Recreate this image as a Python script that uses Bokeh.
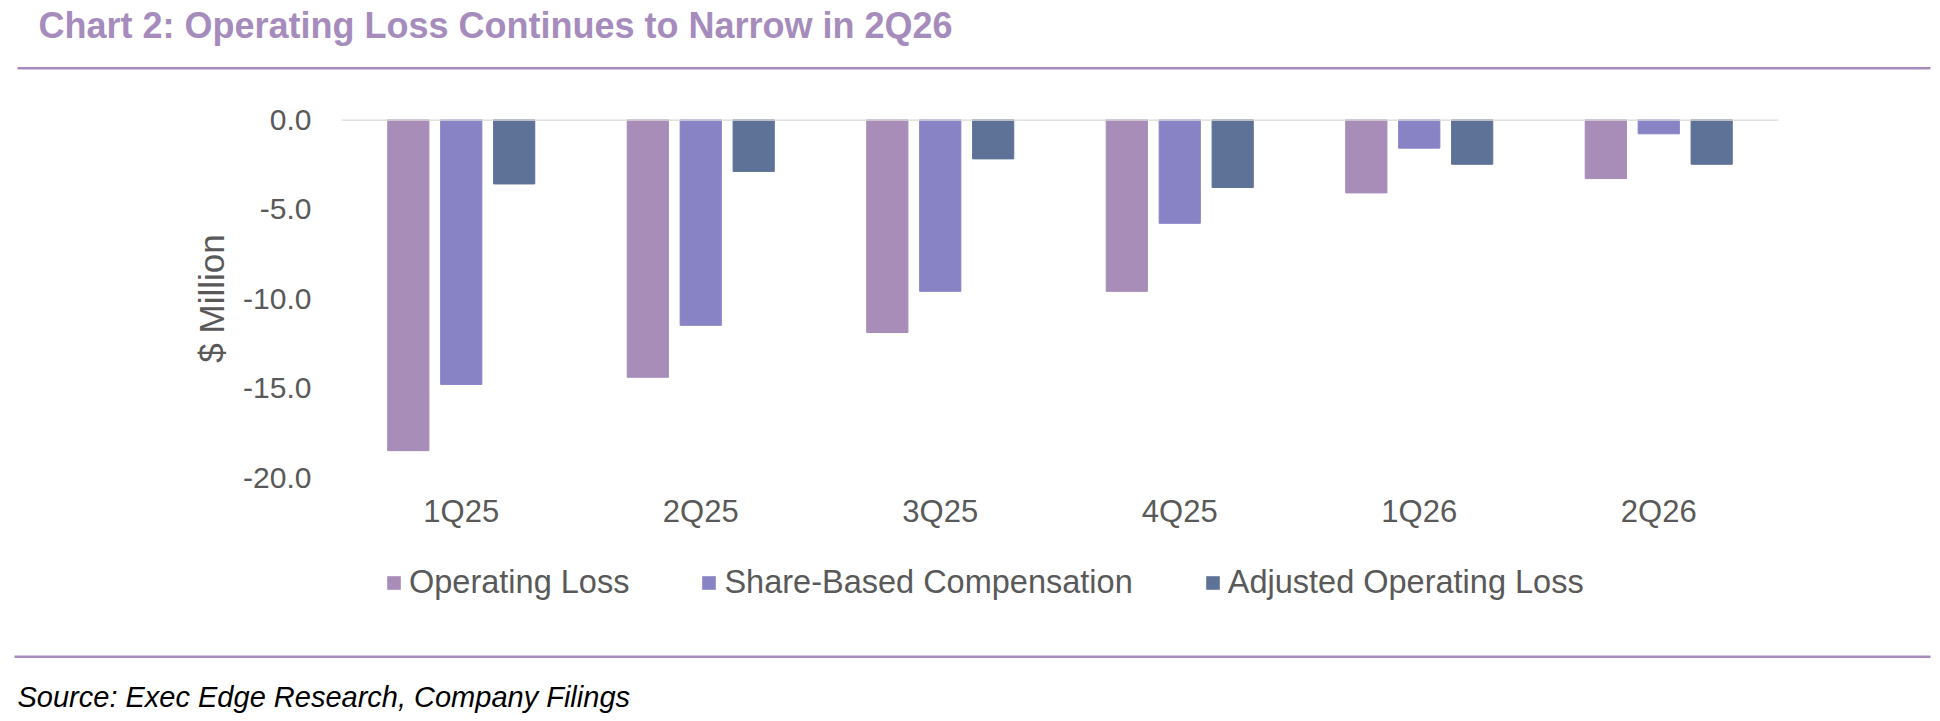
from bokeh.plotting import figure
from bokeh.models import (FactorRange, Range1d, FixedTicker, NumeralTickFormatter,
                          Span, Label, Legend, LegendItem)
from bokeh.layouts import column
from bokeh.transform import dodge
from bokeh.embed import file_html
from bokeh.resources import INLINE

# ---------------- data ----------------
categories = ["1Q25", "2Q25", "3Q25", "4Q25", "1Q26", "2Q26"]
operating_loss = [-18.5, -14.4, -11.9, -9.6, -4.1, -3.3]
share_based_comp = [-14.8, -11.5, -9.6, -5.8, -1.6, -0.8]
adjusted_operating_loss = [-3.6, -2.9, -2.2, -3.8, -2.5, -2.5]
series_names = ["Operating Loss", "Share-Based Compensation", "Adjusted Operating Loss"]
y_ticks = [0, -5, -10, -15, -20]

title_text = "Chart 2: Operating Loss Continues to Narrow in 2Q26"
source_text = "Source: Exec Edge Research, Company Filings"

# ---------------- style ----------------
COLORS = ["#A78DB8", "#8783C4", "#5E7298"]
PURPLE = "#A68CBC"
TXT = "#595959"
FONT = "Liberation Sans"
W = 1940
TOP_H, MAIN_H, BOT_H = 85, 460, 176


def blank_fig(h):
    f = figure(width=W, height=h, x_range=Range1d(0, W), y_range=Range1d(h, 0),
               output_backend="svg", toolbar_location=None, x_axis_type=None,
               y_axis_type=None, title=None, min_border=0, frame_align=False)
    f.min_border_left = f.min_border_right = f.min_border_top = f.min_border_bottom = 0
    f.outline_line_color = None
    f.xgrid.visible = False
    f.ygrid.visible = False
    return f


# ---------------- header ----------------
top = blank_fig(TOP_H)
top.add_layout(Label(x=38, y=24.5, text=title_text, text_font=FONT, text_font_size="36px",
                     text_font_style="bold", text_color=PURPLE, text_baseline="middle"))
top.quad(left=[17], right=[1930], top=[66.5], bottom=[69], fill_color=PURPLE,
         line_color=None)

# ---------------- main chart ----------------
p = figure(width=W, height=MAIN_H, x_range=FactorRange(*categories, range_padding=0),
           y_range=Range1d(-20, 0), output_backend="svg", toolbar_location=None,
           title=None, frame_align=False,
           min_border_left=341, min_border_right=162, min_border_top=34,
           min_border_bottom=68)
p.outline_line_color = None
p.xgrid.grid_line_color = None
p.ygrid.grid_line_color = None

data = dict(cat=categories, a=operating_loss, b=share_based_comp, c=adjusted_operating_loss)
offsets = [-0.221, 0.0, 0.221]
for key, off, col in zip(["a", "b", "c"], offsets, COLORS):
    p.vbar(x=dodge("cat", off, range=p.x_range), top=key, bottom=0, width=0.172,
           source=data, fill_color=col, line_color=col, line_width=1)

p.add_layout(Span(location=0, dimension="width", line_color="#D9D9D9", line_width=2.5))

p.yaxis.ticker = FixedTicker(ticks=y_ticks)
p.yaxis.formatter = NumeralTickFormatter(format="0.0")
p.yaxis.axis_line_color = None
p.yaxis.major_tick_line_color = None
p.yaxis.minor_tick_line_color = None
p.yaxis.major_tick_out = 0
p.yaxis.major_tick_in = 0
p.yaxis.major_label_standoff = 30
p.yaxis.major_label_text_font = FONT
p.yaxis.major_label_text_font_size = "30px"
p.yaxis.major_label_text_color = TXT
p.yaxis.axis_label = "$ Million"
p.yaxis.axis_label_text_font = FONT
p.yaxis.axis_label_text_font_size = "35px"
p.yaxis.axis_label_text_font_style = "normal"
p.yaxis.axis_label_text_color = TXT
p.yaxis.axis_label_standoff = 9

p.xaxis.axis_line_color = None
p.xaxis.major_tick_line_color = None
p.xaxis.minor_tick_line_color = None
p.xaxis.major_tick_out = 0
p.xaxis.major_tick_in = 0
p.xaxis.major_label_standoff = 16
p.xaxis.major_label_text_font = FONT
p.xaxis.major_label_text_font_size = "31px"
p.xaxis.major_label_text_color = TXT

# ---------------- footer: legend, rule, source ----------------
bot = blank_fig(BOT_H)
# zero-size swatch renderers that only supply the legend glyph colours
legend_renderers = [bot.vbar(x=[0], top=[0], bottom=[0], width=0, fill_color=col,
                             line_color=None)
                    for col in COLORS]
legend = Legend(items=[LegendItem(label=n, renderers=[r])
                       for n, r in zip(series_names, legend_renderers)],
                orientation="horizontal", location=(385, 120), padding=0, margin=0,
                glyph_width=17, glyph_height=17, label_height=36, label_standoff=7,
                spacing=71, border_line_color=None, background_fill_alpha=0,
                label_text_font=FONT, label_text_font_size="32.5px", label_text_color=TXT)
bot.add_layout(legend, "center")
bot.quad(left=[14], right=[1930], top=[110], bottom=[112.5], fill_color=PURPLE,
         line_color=None)
bot.add_layout(Label(x=17, y=151, text=source_text, text_font=FONT, text_font_size="29px",
                     text_font_style="italic", text_color="#000000",
                     text_baseline="middle"))

layout = column(top, p, bot, spacing=0)
open("out.html", "w").write(file_html(layout, INLINE))
